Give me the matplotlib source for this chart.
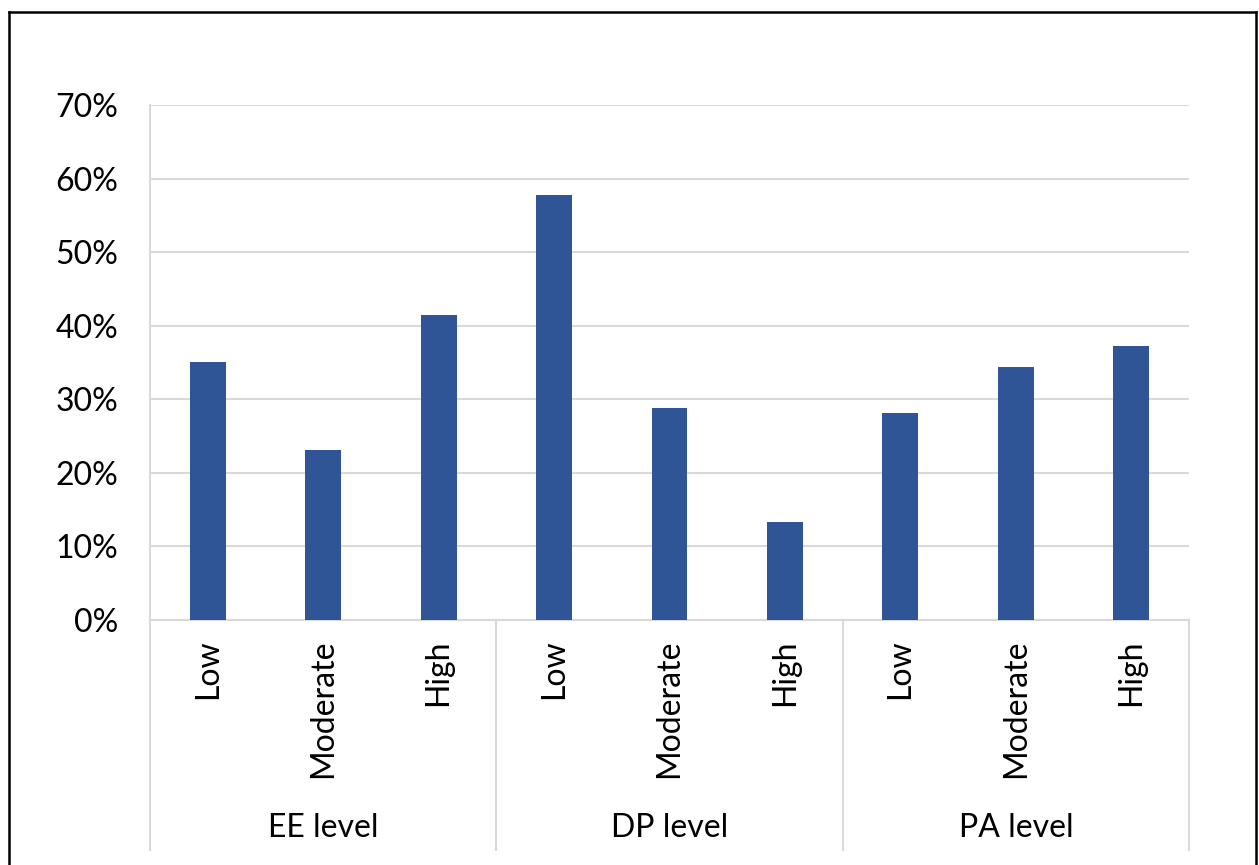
import matplotlib.pyplot as plt
from matplotlib.lines import Line2D
from matplotlib.ticker import FuncFormatter
import matplotlib.transforms as mtransforms

# data
groups = ['EE level', 'DP level', 'PA level']
levels = ['Low', 'Moderate', 'High']
ee_values = [0.351, 0.231, 0.415]
dp_values = [0.577, 0.288, 0.133]
pa_values = [0.281, 0.344, 0.372]

plt.rcParams['font.family'] = ['Lato', 'DejaVu Sans']

values = ee_values + dp_values + pa_values
xpos = list(range(len(values)))

fig = plt.figure(figsize=(12.59, 8.65), dpi=100)
ax = fig.add_axes([150 / 1259, 1 - 620 / 865, 1039 / 1259, 515 / 865])

ax.bar(xpos, values, width=0.31, color='#2F5597', zorder=3)

ax.set_xlim(-0.5, len(values) - 0.5)
ax.set_ylim(0, 0.7)
ax.set_yticks([i / 10 for i in range(8)])
ax.yaxis.set_major_formatter(FuncFormatter(lambda v, p: f'{v * 100:.0f}%'))
ax.tick_params(axis='y', length=0, pad=23, labelsize=23, labelcolor='#000000')
ax.set_xticks([])
ax.grid(axis='y', color='#d9d9d9', linewidth=1.5, zorder=0)

for side in ['top', 'right']:
    ax.spines[side].set_visible(False)
ax.spines['left'].set_color('#d9d9d9')
ax.spines['left'].set_linewidth(1.5)
ax.spines['bottom'].set_color('#d9d9d9')
ax.spines['bottom'].set_linewidth(1.5)

trans = mtransforms.blended_transform_factory(ax.transData, ax.transAxes)

# category labels, rotated
for i, x in enumerate(xpos):
    ax.text(x, -0.038, levels[i % 3], transform=trans, rotation=90,
            ha='center', va='top', fontsize=23)

# group labels and separators
for g, name in enumerate(groups):
    ax.text(g * 3 + 1, -0.404, name, transform=trans, ha='center',
            va='center', fontsize=23)
for g in range(len(groups) + 1):
    xs = g * 3 - 0.5
    ax.plot([xs, xs], [0, -0.447], transform=trans, color='#d9d9d9',
            linewidth=1.5, clip_on=False)

# outer border of the chart area
bl, bt, br = 8.7 / 1259, 1 - 12 / 865, 1256 / 1259
fig.add_artist(Line2D([bl, bl], [0, bt], color='black', linewidth=1.8))
fig.add_artist(Line2D([bl, br], [bt, bt], color='black', linewidth=1.8))
fig.add_artist(Line2D([br, br], [0, bt], color='black', linewidth=1.8))

fig.savefig('out.png', dpi=100)
